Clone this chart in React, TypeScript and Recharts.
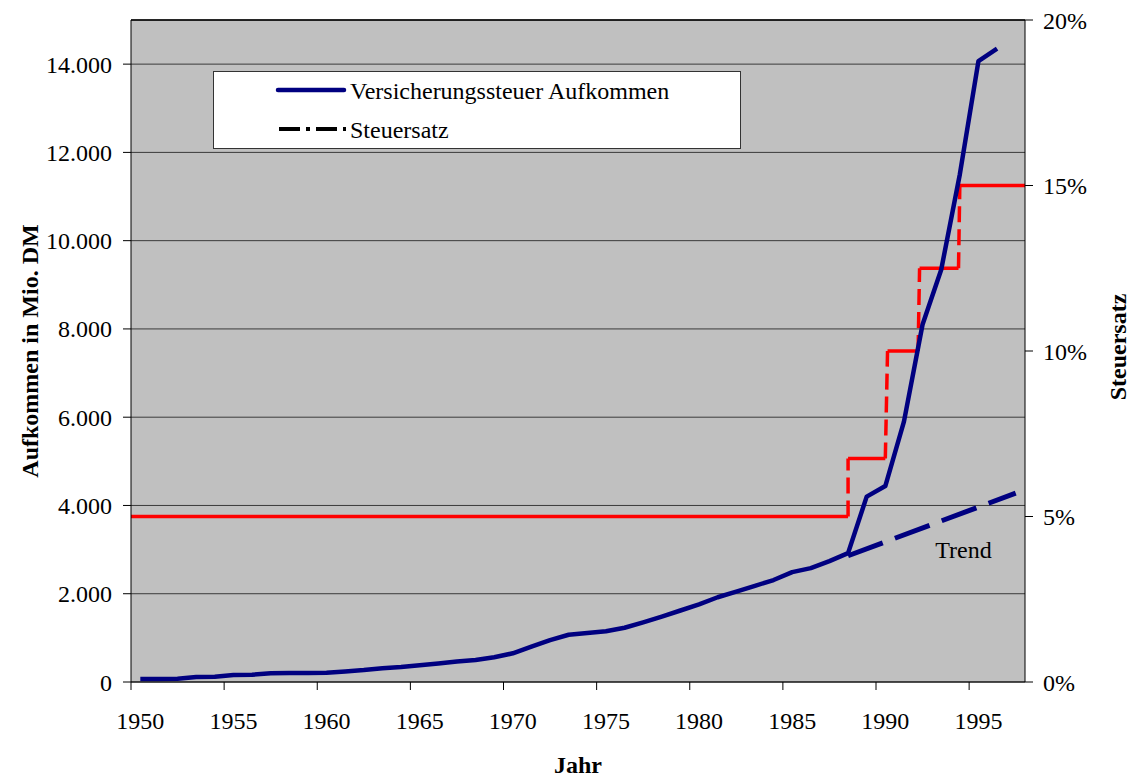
import {
  ComposedChart,
  Line,
  XAxis,
  YAxis,
  CartesianGrid,
  ReferenceLine,
  ReferenceDot,
} from "recharts";

const years = [
  1950, 1951, 1952, 1953, 1954, 1955, 1956, 1957, 1958, 1959,
  1960, 1961, 1962, 1963, 1964, 1965, 1966, 1967, 1968, 1969,
  1970, 1971, 1972, 1973, 1974, 1975, 1976, 1977, 1978, 1979,
  1980, 1981, 1982, 1983, 1984, 1985, 1986, 1987, 1988, 1989,
  1990, 1991, 1992, 1993, 1994, 1995, 1996,
];

// Versicherungssteuer Aufkommen, Mio. DM
const revenue = [
  70, 70, 75, 115, 120, 160, 165, 200, 205, 205,
  210, 240, 270, 310, 340, 380, 420, 465, 500, 560,
  650, 800, 950, 1070, 1110, 1150, 1230, 1350, 1480, 1620,
  1760, 1920, 2050, 2180, 2310, 2490, 2580, 2740, 2920, 4200,
  4440, 5900, 8100, 9340, 11500, 14070, 14350,
];

const trendYears = [1988, 1997];
const trendValues = [2860, 4280];

// Steuersatz in %, Stufen
const rateLevels = [5, 6.75, 10, 12.5, 15];
const rateStart = [1949.5, 1988, 1990.12, 1991.84, 1994];
const rateEnd = [1988, 1990, 1991.76, 1993.93, 1997.5];

const yearTicks = [1950, 1955, 1960, 1965, 1970, 1975, 1980, 1985, 1990, 1995];
// tick marks sit between categories, labels on the category centre
const xTicks = yearTicks.flatMap((y) => [y - 0.5, y]);
const leftTicks = [0, 2000, 4000, 6000, 8000, 10000, 12000, 14000];
const rightTicks = [0, 5, 10, 15, 20];

const revenueData = years.map((x, i) => ({ x, y: revenue[i] }));
const trendData = trendYears.map((x, i) => ({ x, y: trendValues[i] }));

const rateFlat: { x: number; y: number | null }[] = [];
rateLevels.forEach((lvl, i) => {
  rateFlat.push({ x: rateStart[i], y: lvl });
  rateFlat.push({ x: rateEnd[i], y: lvl });
  rateFlat.push({ x: rateEnd[i], y: null });
});

const rateJumps: { x: number; y: number | null }[] = [];
for (let i = 1; i < rateLevels.length; i++) {
  rateJumps.push({ x: rateEnd[i - 1], y: rateLevels[i - 1] });
  rateJumps.push({ x: rateStart[i], y: rateLevels[i] });
  rateJumps.push({ x: rateStart[i], y: null });
}

const FONT = "'Liberation Serif', 'Times New Roman', serif";

const fmtThousands = (v: number) =>
  String(v).replace(/\B(?=(\d{3})+(?!\d))/g, ".");

function YearTick(props: any) {
  const { x, y, payload } = props;
  const v = payload.value;
  if (v % 1 !== 0) {
    return <line x1={x} y1={y} x2={x} y2={y + 8} stroke="#000" strokeWidth={1} />;
  }
  return (
    <text x={x} y={y + 47} textAnchor="middle" fontSize={24} fill="#000">
      {v}
    </text>
  );
}

function LeftTitle(props: any) {
  const { viewBox } = props;
  const x = viewBox.x + 30;
  const y = viewBox.y + viewBox.height / 2;
  return (
    <text
      x={x}
      y={y}
      transform={`rotate(-90 ${x} ${y})`}
      textAnchor="middle"
      dominantBaseline="central"
      fontWeight="bold"
      fontSize={24}
      fill="#000"
    >
      Aufkommen in Mio. DM
    </text>
  );
}

function RightTitle(props: any) {
  const { viewBox } = props;
  const x = viewBox.x + 93;
  const y = viewBox.y + viewBox.height / 2 - 4;
  return (
    <text
      x={x}
      y={y}
      transform={`rotate(-90 ${x} ${y})`}
      textAnchor="middle"
      dominantBaseline="central"
      fontWeight="bold"
      fontSize={24}
      fill="#000"
    >
      Steuersatz
    </text>
  );
}

function LegendBox() {
  return (
    <svg
      width={529}
      height={79}
      style={{ position: "absolute", left: 213, top: 71, fontFamily: FONT }}
    >
      <rect x={0.5} y={0.5} width={527} height={77} fill="#fff" stroke="#333" />
      <line x1={65} y1={19} x2={131} y2={19} stroke="#000080" strokeWidth={4.5} strokeLinecap="round" />
      <text x={137} y={28} fontSize={24} fill="#000">
        Versicherungssteuer Aufkommen
      </text>
      <line x1={66} y1={58} x2={133} y2={58} stroke="#000" strokeWidth={4} strokeDasharray="21 6 4 6" />
      <text x={137} y={67} fontSize={24} fill="#000">
        Steuersatz
      </text>
    </svg>
  );
}

export default function App() {
  return (
    <div style={{ position: "absolute", left: 0, top: 0, width: 1135, height: 780, fontFamily: FONT }}>
      <ComposedChart
        width={1135}
        height={780}
        margin={{ top: 20, right: 0, bottom: 0, left: 0 }}
        style={{ fontFamily: FONT }}
      >
        <CartesianGrid
          yAxisId="left"
          vertical={false}
          fill="#C0C0C0"
          fillOpacity={1}
          stroke="#3a3a3a"
        />
        <XAxis
          dataKey="x"
          type="number"
          domain={[1949.5, 1997.5]}
          ticks={xTicks}
          interval={0}
          tick={<YearTick />}
          tickLine={false}
          tickSize={0}
          tickMargin={0}
          height={98}
          axisLine={{ stroke: "#000" }}
          label={{ value: "Jahr", position: "insideBottom", offset: 7, fontSize: 24, fontWeight: "bold", fill: "#000" }}
        />
        <YAxis
          yAxisId="left"
          orientation="left"
          width={131}
          domain={[0, 15000]}
          ticks={leftTicks}
          tickFormatter={fmtThousands}
          tickSize={8}
          tickMargin={11}
          axisLine={{ stroke: "#000" }}
          tickLine={{ stroke: "#000" }}
          tick={{ fill: "#000", fontSize: 24 }}
          label={<LeftTitle />}
        />
        <YAxis
          yAxisId="right"
          orientation="right"
          width={110}
          domain={[0, 20]}
          ticks={rightTicks}
          tickFormatter={(v: number) => `${v}%`}
          tickSize={8}
          tickMargin={10}
          axisLine={{ stroke: "#000" }}
          tickLine={{ stroke: "#000" }}
          tick={{ fill: "#000", fontSize: 24 }}
          label={<RightTitle />}
        />
        <ReferenceLine yAxisId="left" y={15000} stroke="#000" strokeWidth={1.5} />
        <Line
          yAxisId="right"
          data={rateFlat}
          dataKey="y"
          type="linear"
          stroke="#FF0000"
          strokeWidth={3.5}
          dot={false}
          activeDot={false}
          connectNulls={false}
          isAnimationActive={false}
        />
        <Line
          yAxisId="right"
          data={rateJumps}
          dataKey="y"
          type="linear"
          stroke="#FF0000"
          strokeWidth={3.5}
          strokeDasharray="16 7"
          dot={false}
          activeDot={false}
          connectNulls={false}
          isAnimationActive={false}
        />
        <Line
          yAxisId="left"
          data={trendData}
          dataKey="y"
          type="linear"
          stroke="#000080"
          strokeWidth={5}
          strokeDasharray="37 13"
          dot={false}
          activeDot={false}
          isAnimationActive={false}
        />
        <Line
          yAxisId="left"
          data={revenueData}
          dataKey="y"
          type="linear"
          stroke="#000080"
          strokeWidth={4.5}
          strokeLinejoin="round"
          dot={false}
          activeDot={false}
          isAnimationActive={false}
        />
        <ReferenceDot
          yAxisId="left"
          x={1994.2}
          y={3000}
          r={0}
          fill="none"
          stroke="none"
          label={{ value: "Trend", position: "center", fontSize: 24, fill: "#000" }}
        />
      </ComposedChart>
      <LegendBox />
    </div>
  );
}
